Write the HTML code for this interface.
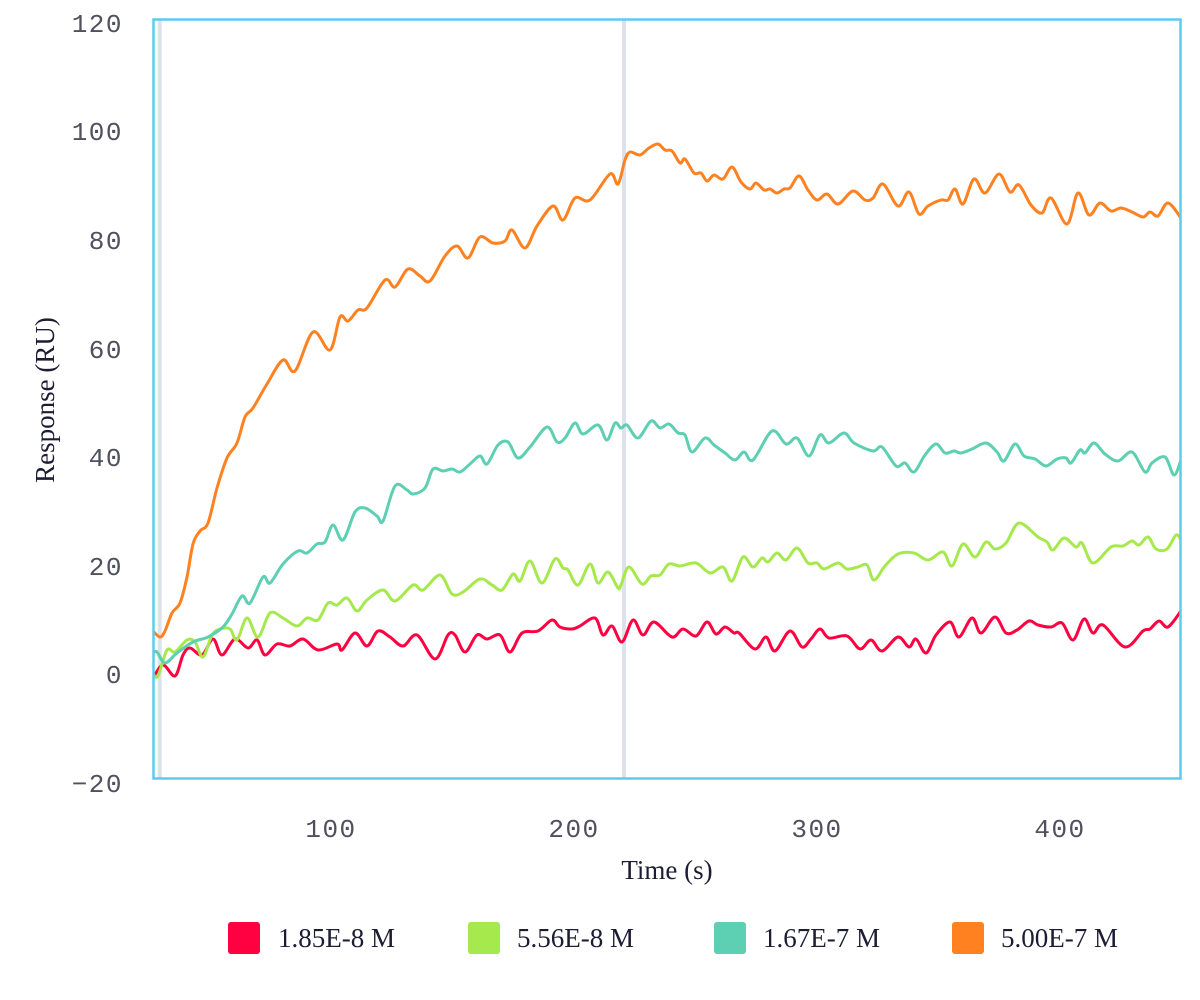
<!DOCTYPE html>
<html>
<head>
<meta charset="utf-8">
<style>
html,body{margin:0;padding:0;background:#ffffff;}
svg{display:block;}
.yl{font-family:"Liberation Mono",monospace;font-size:26px;fill:#50505e;letter-spacing:1.5px;}
.xl{font-family:"Liberation Mono",monospace;font-size:26px;fill:#50505e;letter-spacing:1.5px;}
.tt{font-family:"Liberation Serif",serif;font-size:27px;fill:#1c1c33;}
.lg{font-family:"Liberation Serif",serif;font-size:27px;fill:#1c1c33;}
.s{fill:none;stroke-width:3;stroke-linejoin:round;stroke-linecap:round;}
</style>
</head>
<body>
<svg id="chart" width="1200" height="1000" viewBox="0 0 1200 1000" xmlns="http://www.w3.org/2000/svg">
<defs>
<clipPath id="pc"><rect x="153" y="19" width="1028" height="760"/></clipPath>
</defs>
<rect x="0" y="0" width="1200" height="1000" fill="#ffffff"/>

<!-- vertical marker lines -->
<rect x="157.7" y="20" width="4" height="758" fill="#dde1e9"/>
<rect x="622" y="20" width="4" height="758" fill="#dde1e9"/>

<g id="series" clip-path="url(#pc)">
<!-- red 1.85E-8 -->
<polyline class="s" stroke="#ff0040" points="153,678 163,665 175,676 183,655 190,648 202,655 213,639 222,655 235,639 248,648 257,640 265,655 277,644 290,646 303,639 318,650 337,644 342,650 355,633 367,646 378,631 390,637 403,646 417,635 435,659 448,635 455,635 465,652 477,635 487,639 500,635 510,652 522,633 538,631 552,620 560,627 572,629 580,626 595,618 603,635 612,626 622,642 633,620 643,635 654,622 672,637 683,629 696,636 707,622 716,634 725,627 734,633 739,633 755,649 766,637 775,651 790,631 802,647 811,639 820,629 829,638 847,636 860,649 871,640 882,651 898,637 909,647 916,639 926,653 936,635 950,622 959,637 972,618 981,633 995,617 1006,633 1017,630 1029,621 1038,625 1051,627 1062,623 1073,640 1084,619 1093,633 1103,625 1125,647 1143,631 1150,629 1159,621 1168,627 1181,611"/>
<!-- lime 5.56E-8 -->
<polyline class="s" stroke="#a6e94c" points="153,674 158,676 167,650 175,652 187,640 195,642 203,657 212,635 220,629 230,629 237,640 247,618 258,637 270,613 283,618 297,626 307,618 318,620 328,603 337,605 347,598 357,611 367,600 383,590 395,601 413,585 423,590 440,575 452,594 463,592 480,579 492,585 502,590 513,574 520,581 530,561 542,583 555,559 563,568 568,570 578,585 590,564 598,583 608,572 618,588 621,585 629,567 642,584 651,576 660,575 669,564 680,566 696,563 710,573 723,567 732,581 743,557 753,567 762,558 768,562 777,553 786,560 797,548 808,563 817,563 824,569 838,563 847,569 858,567 867,565 874,580 885,566 898,554 914,553 928,560 943,552 952,566 963,544 975,557 986,542 995,549 1006,543 1019,523 1038,537 1047,542 1053,550 1064,538 1076,547 1082,543 1093,563 1111,547 1123,546 1132,541 1139,545 1148,537 1156,549 1167,549 1176,535 1181,540"/>
<!-- teal 1.67E-7 -->
<polyline class="s" stroke="#5dcfb2" points="153,653 157,652 165,663 177,653 193,642 208,637 223,627 232,614 242,596 250,603 263,577 270,583 283,564 298,551 307,553 317,544 325,542 333,525 343,540 355,512 365,508 377,516 383,521 395,486 407,490 413,494 425,488 433,469 443,471 452,469 460,472 470,464 480,456 487,464 498,445 508,442 518,458 530,447 547,427 557,442 565,438 575,423 583,434 598,425 607,440 615,423 621,428 627,425 638,438 651,421 660,428 669,424 678,433 685,435 692,452 705,438 714,445 725,453 735,460 744,452 753,460 772,431 786,444 797,438 809,456 820,435 829,443 844,433 854,443 873,451 882,447 896,466 905,463 914,472 925,455 936,444 945,453 954,451 961,453 972,449 986,443 997,452 1004,461 1015,444 1024,456 1035,459 1046,466 1057,459 1066,458 1071,463 1080,450 1085,453 1094,443 1105,454 1118,461 1132,452 1145,472 1152,463 1165,457 1174,475 1181,460"/>
<!-- orange 5.00E-7 -->
<polyline class="s" stroke="#ff8120" points="153,631 160,637 165,631 172,613 180,603 187,577 193,544 200,531 208,523 217,488 227,458 237,443 245,417 253,408 267,384 283,360 295,371 313,332 330,350 340,317 348,321 358,310 367,308 385,280 395,287 408,269 420,276 430,281 445,256 457,246 468,258 480,237 493,243 505,241 512,230 525,248 537,226 553,206 563,220 575,198 590,200 610,174 618,184 625,160 630,152 640,155 649,148 658,144 665,150 672,151 680,163 685,159 694,173 701,173 707,181 714,175 723,179 732,167 741,182 750,189 756,183 764,190 770,189 777,193 784,189 790,188 799,176 808,190 817,200 827,194 838,204 853,191 865,200 873,198 883,184 898,206 909,192 919,214 928,206 941,200 948,200 955,189 963,204 974,179 985,193 999,174 1010,192 1019,185 1031,205 1042,213 1051,198 1067,224 1078,193 1089,215 1100,203 1111,211 1121,208 1132,212 1143,217 1150,212 1158,216 1168,203 1181,218"/>
</g>

<!-- frame -->
<rect x="153.5" y="19.5" width="1027" height="759" fill="none" stroke="#5ccbf0" stroke-width="2.5"/>

<!-- y labels -->
<g class="yl" text-anchor="end">
<text x="123" y="32">120</text>
<text x="123" y="140">100</text>
<text x="123" y="249">80</text>
<text x="123" y="358">60</text>
<text x="123" y="466">40</text>
<text x="123" y="575">20</text>
<text x="123" y="683">0</text>
<text x="123" y="792">−20</text>
</g>

<!-- x labels -->
<g class="xl" text-anchor="middle">
<text x="331" y="837">100</text>
<text x="574" y="837">200</text>
<text x="817" y="837">300</text>
<text x="1060" y="837">400</text>
</g>

<!-- axis titles -->
<text class="tt" x="667" y="879" text-anchor="middle">Time (s)</text>
<text class="tt" x="0" y="0" text-anchor="middle" transform="translate(54,400) rotate(-90)">Response (RU)</text>

<!-- legend -->
<rect x="228" y="922" width="32" height="32" rx="3" fill="#ff0040"/>
<text class="lg" x="278" y="947">1.85E-8 M</text>
<rect x="468" y="922" width="32" height="32" rx="3" fill="#a6e94c"/>
<text class="lg" x="517" y="947">5.56E-8 M</text>
<rect x="714" y="922" width="32" height="32" rx="3" fill="#5dcfb2"/>
<text class="lg" x="763" y="947">1.67E-7 M</text>
<rect x="952" y="922" width="32" height="32" rx="3" fill="#ff8120"/>
<text class="lg" x="1001" y="947">5.00E-7 M</text>
</svg>
<script>
(function(){
  var NS="http://www.w3.org/2000/svg";
  var pls=document.querySelectorAll("#series polyline");
  for(var i=0;i<pls.length;i++){
    var pl=pls[i];
    var nums=pl.getAttribute("points").trim().split(/[\s,]+/).map(Number);
    var p=[];
    for(var j=0;j<nums.length;j+=2)p.push([nums[j],nums[j+1]]);
    var d="M"+p[0][0]+","+p[0][1];
    var t=0.5;
    for(var k=0;k<p.length-1;k++){
      var p0=p[k>0?k-1:0],p1=p[k],p2=p[k+1],p3=p[k+2<p.length?k+2:p.length-1];
      var c1x=p1[0]+(p2[0]-p0[0])*t/3,c1y=p1[1]+(p2[1]-p0[1])*t/3;
      var c2x=p2[0]-(p3[0]-p1[0])*t/3,c2y=p2[1]-(p3[1]-p1[1])*t/3;
      d+=" C"+c1x.toFixed(2)+","+c1y.toFixed(2)+" "+c2x.toFixed(2)+","+c2y.toFixed(2)+" "+p2[0]+","+p2[1];
    }
    var path=document.createElementNS(NS,"path");
    path.setAttribute("d",d);
    path.setAttribute("class","s");
    path.setAttribute("stroke",pl.getAttribute("stroke"));
    pl.parentNode.replaceChild(path,pl);
  }
})();
</script>
</body>
</html>
